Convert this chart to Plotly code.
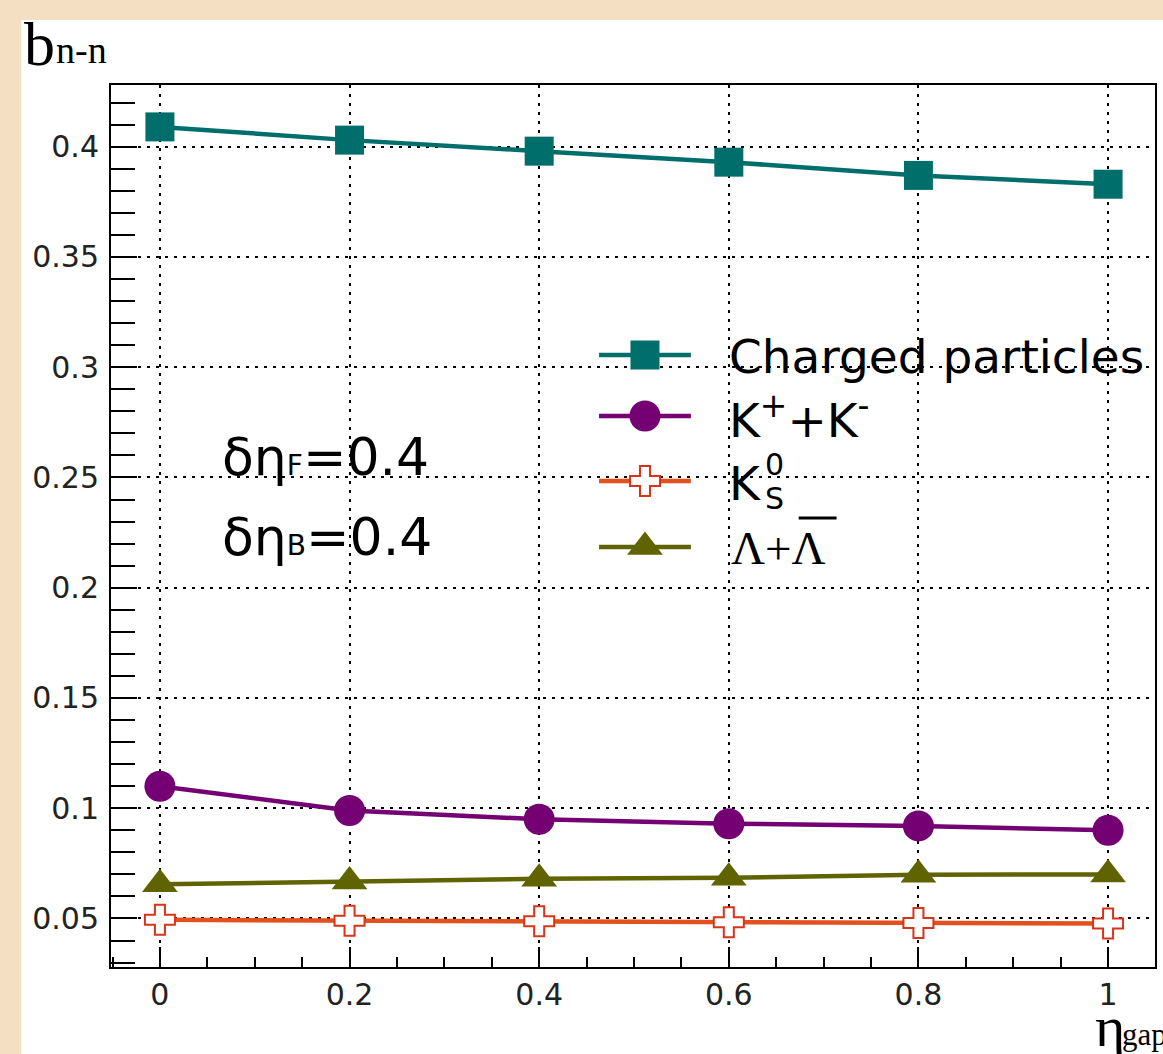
import plotly.graph_objects as go

# ---------------- data ----------------
eta_gap = [0.0, 0.2, 0.4, 0.6, 0.8, 1.0]
charged = [0.409, 0.403, 0.398, 0.393, 0.387, 0.383]
kaons = [0.110, 0.099, 0.095, 0.093, 0.092, 0.090]
k0s = [0.0494, 0.0490, 0.0487, 0.0483, 0.0480, 0.0477]
lambdas = [0.0655, 0.0668, 0.0680, 0.0685, 0.0698, 0.0700]

x_ticks = [0, 0.2, 0.4, 0.6, 0.8, 1]
x_ticktext = ["0", "0.2", "0.4", "0.6", "0.8", "1"]
y_ticks = [0.05, 0.1, 0.15, 0.2, 0.25, 0.3, 0.35, 0.4]
y_ticktext = ["0.05", "0.1", "0.15", "0.2", "0.25", "0.3", "0.35", "0.4"]

# ---------------- layout constants ----------------
W, H = 1163, 1054
L, R, T, B = 111, 6, 85, 87
PW, PH = W - L - R, H - T - B

def px(x):
    return (x - L) / PW

def py(y):
    return (H - B - y) / PH

TEAL = "#006f6c"
PURPLE = "#740074"
ORANGE = "#e2501e"
ORANGE_MK = "#d8341a"
OLIVE = "#5f6400"

fig = go.Figure()

styles = [
    dict(name="Charged particles", y=charged, line=TEAL,
         marker=dict(symbol="square", size=29, color=TEAL)),
    dict(name="K+K-", y=kaons, line=PURPLE,
         marker=dict(symbol="circle", size=31, color=PURPLE)),
    dict(name="K0S", y=k0s, line=ORANGE,
         marker=dict(symbol="cross", size=25, color="white",
                     line=dict(color=ORANGE_MK, width=2))),
    dict(name="Lambda", y=lambdas, line=OLIVE,
         marker=dict(symbol="triangle-up", size=31, color=OLIVE)),
]

for s in styles:
    fig.add_trace(go.Scatter(
        x=eta_gap, y=s["y"], mode="lines+markers", name=s["name"],
        line=dict(color=s["line"], width=4.5),
        marker=s["marker"], showlegend=False, cliponaxis=False,
    ))

# ---------------- manual legend (overlay axes 0..1) ----------------
leg_rows_px = [355, 416, 481, 547]
leg_x0, leg_x1, leg_xm = px(600), px(692), px(646)
for s, ypx in zip(styles, leg_rows_px):
    yy = py(ypx)
    fig.add_trace(go.Scatter(
        x=[leg_x0, leg_x1], y=[yy, yy], mode="lines",
        line=dict(color=s["line"], width=4.5), showlegend=False,
        xaxis="x2", yaxis="y2", hoverinfo="skip"))
    fig.add_trace(go.Scatter(
        x=[leg_xm], y=[yy], mode="markers", marker=s["marker"],
        showlegend=False, xaxis="x2", yaxis="y2", hoverinfo="skip"))

SANS = "DejaVu Sans"
SERIF = "Liberation Serif"

ann = []
def text(x, y, t, size, font=SANS, xanchor="left", yanchor="middle"):
    ann.append(dict(x=px(x), y=py(y), xref="paper", yref="paper", text=t,
                    showarrow=False, xanchor=xanchor, yanchor=yanchor,
                    font=dict(family=font, size=size, color="black")))

text(728, 356, "Charged particles", 47)
text(728, 417, "K<sup>+</sup>+K<sup>-</sup>", 47)
text(728, 483, "K", 47)
text(764, 465, "0", 30)
text(764, 498, "S", 30)
text(730, 548, "Λ+Λ", 47, font=SERIF)

# annotation text
text(220, 457, "δη<span style='font-size:28px'>F</span>=0.4", 52)
text(220, 537, "δη<span style='font-size:28px'>B</span>=0.4", 52)

# axis titles
text(22, 44, "b", 62, font=SERIF)
text(54, 50, "n-n", 38, font=SERIF)
text(1095, 1026, "η", 58, font=SERIF)
text(1122, 1034, "gap", 31, font=SERIF)

fig.update_layout(annotations=ann)

shapes = [
    # white panel
    dict(type="rect", xref="paper", yref="paper",
         x0=px(21), x1=px(W + 5), y0=py(H + 5), y1=py(20),
         fillcolor="white", line=dict(width=0), layer="below"),
    # overline for anti-lambda
    dict(type="line", xref="paper", yref="paper",
         x0=px(800), x1=px(838), y0=py(518), y1=py(518),
         line=dict(color="black", width=3)),
]
fig.update_layout(shapes=shapes)

axis_common = dict(
    showline=True, linecolor="black", linewidth=2, mirror=True,
    ticks="inside", tickcolor="black", tickwidth=2,
    showgrid=True, gridcolor="black", gridwidth=2, griddash="3px,6px",
    zeroline=False,
    tickfont=dict(family=SANS, size=30, color="#222222"),
)

fig.update_layout(
    width=W, height=H,
    margin=dict(l=L, r=R, t=T, b=B),
    paper_bgcolor="#f4dfc2",
    plot_bgcolor="white",
    showlegend=False,
    xaxis=dict(range=[-0.0516, 1.0495], tickvals=x_ticks, ticktext=x_ticktext,
               ticklen=20,
               minor=dict(dtick=0.05, tick0=0, ticks="inside", ticklen=10,
                          tickcolor="black", tickwidth=2, showgrid=False),
               **axis_common),
    yaxis=dict(range=[0.028, 0.428], tickvals=y_ticks, ticktext=y_ticktext,
               ticklen=26, ticklabelstandoff=4,
               minor=dict(dtick=0.01, tick0=0, ticks="inside", ticklen=24,
                          tickcolor="black", tickwidth=2, showgrid=False),
               **axis_common),
    xaxis2=dict(range=[0, 1], overlaying="x", visible=False, fixedrange=True),
    yaxis2=dict(range=[0, 1], overlaying="y", visible=False, fixedrange=True),
)

fig.write_html("out.html",
               config={"displayModeBar": False},
               post_script="document.body.style.margin='0';"
                           "document.body.style.overflow='hidden';")
